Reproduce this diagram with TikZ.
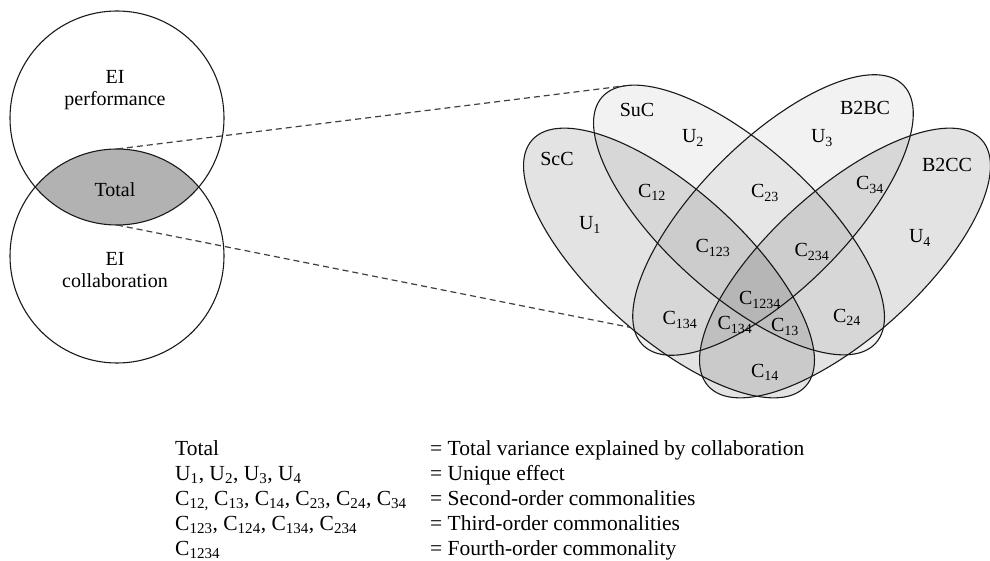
\documentclass[tikz,border=0pt]{standalone}
\usepackage{fontspec}
\setmainfont{Liberation Serif}
\usetikzlibrary{shapes.geometric,positioning,calc}

\newcommand{\Cs}[1]{C\textsubscript{#1}}
\newcommand{\Us}[1]{U\textsubscript{#1}}

\begin{document}
\begin{tikzpicture}[x=1pt,y=1pt,
font=\fontsize{20}{22}\selectfont,
field/.style={
% The shape:
circle,
% The size:
minimum size=214pt, inner sep=0pt, outer sep=0pt,
% The border:
line width=1.1pt, draw=black!90
},
dimension/.style={
% The shape:
ellipse,
% The size:
minimum width=368pt, minimum height=148pt, inner sep=0pt, outer sep=0pt,
% The border:
line width=1.1pt, draw=black!90,
% The filling (see-through, so overlaps get darker):
fill=black
},
outerdim/.style={dimension, fill opacity=0.11},
innerdim/.style={dimension, fill opacity=0.05},
zoomline/.style={dash pattern=on 6pt off 4pt, line width=1.2pt, draw=black!75},
legend/.style={anchor=base west, inner sep=0pt, font=\fontsize{21.5}{24}\selectfont}]

\useasboundingbox (0,0) rectangle (990,560);

% the two fields and their overlap
\coordinate (pc) at (117,442);
\coordinate (cc) at (117,304);
\begin{scope}
\clip (pc) circle (107pt);
\fill[black!30] (cc) circle (107pt);
\end{scope}
\node (perf) [field] at (pc) {};
\node (collab) [field] at (cc) {};
\node (perftext) [align=center] at (115,470) {EI\\performance};
\node (total) at (115,370) {Total};
\node (collabtext) [align=center] at (115,290) {EI\\collaboration};

% the four kinds of collaboration
\node (scc) [outerdim, rotate=-42] at (669,297) {};
\node (suc) [innerdim, rotate=-42] at (739,340) {};
\node (b2bc) [innerdim, rotate=45] at (773,345) {};
\node (b2cc) [outerdim, rotate=42] at (845,297) {};

\node (scclabel) at (557,401) {ScC};
\node (suclabel) at (637,450) {SuC};
\node (b2bclabel) at (865,452) {B2BC};
\node (b2cclabel) at (947,395) {B2CC};

\node (u1) at (590,335) {\Us{1}};
\node (u2) at (693,422) {\Us{2}};
\node (u3) at (822,422) {\Us{3}};
\node (u4) at (920,322) {\Us{4}};
\node (c12) at (652,368) {\Cs{12}};
\node (c23) at (765,367) {\Cs{23}};
\node (c34) at (870,375) {\Cs{34}};
\node (c123) at (713,312) {\Cs{123}};
\node (c234) at (812,308) {\Cs{234}};
\node (c1234) at (760,260) {\Cs{1234}};
\node (c134) at (680,240) {\Cs{134}};
\node (c134b) at (735,235) {\Cs{134}};
\node (c13) at (785,233) {\Cs{13}};
\node (c24) at (847,243) {\Cs{24}};
\node (c14) at (765,188) {\Cs{14}};

% zoom from the overlap to the diagram
\draw[zoomline] (collab.north) -- (suc.172);
\draw[zoomline] (perf.south) -- (scc.-79);

% legend
\node (ktotal) [legend] at (175,105) {Total};
\node (kunique) [legend] at (175,80) {\Us{1}, \Us{2}, \Us{3}, \Us{4}};
\node (ksecond) [legend] at (175,55) {\Cs{12,} \Cs{13}, \Cs{14}, \Cs{23}, \Cs{24}, \Cs{34}};
\node (kthird) [legend] at (175,30) {\Cs{123}, \Cs{124}, \Cs{134}, \Cs{234}};
\node (kfourth) [legend] at (175,5) {\Cs{1234}};
\node (dtotal) [legend] at (430,105) {= Total variance explained by collaboration};
\node (dunique) [legend] at (430,80) {= Unique effect};
\node (dsecond) [legend] at (430,55) {= Second-order commonalities};
\node (dthird) [legend] at (430,30) {= Third-order commonalities};
\node (dfourth) [legend] at (430,5) {= Fourth-order commonality};
\end{tikzpicture}
\end{document}
